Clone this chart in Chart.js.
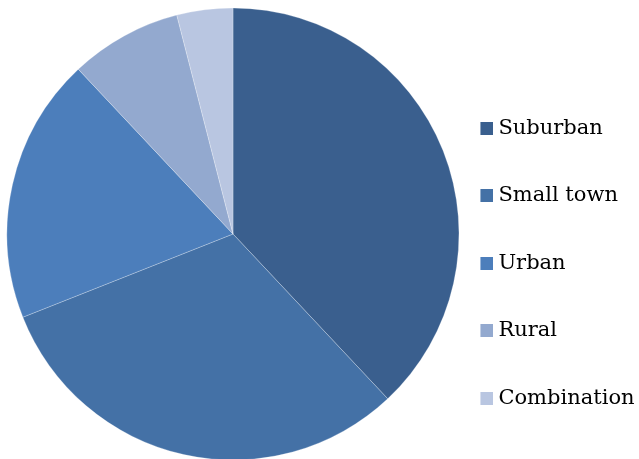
<!DOCTYPE html>
<html>
<head>
<meta charset="utf-8">
<script src="https://cdn.jsdelivr.net/npm/chart.js@4/dist/chart.umd.min.js"></script>
<style>
html,body{margin:0;padding:0;background:#fff;}
canvas{display:block;}
</style>
</head>
<body>
<canvas id="c" width="639" height="459"></canvas>
<script>
const categories = ["Suburban", "Small town", "Urban", "Rural", "Combination"];
const shares = [38, 31, 19, 8, 4];
const sliceColors = ["#3A5F8E", "#4471A6", "#4C7EBB", "#93A9CF", "#B9C6E1"];

function swatch(color) {
  const cv = document.createElement('canvas');
  cv.width = 24; cv.height = 13;
  const g = cv.getContext('2d');
  g.fillStyle = color;
  g.fillRect(11, 0, 13, 13);
  return cv;
}

const baseGen = (Chart.overrides.pie && Chart.overrides.pie.plugins && Chart.overrides.pie.plugins.legend
  && Chart.overrides.pie.plugins.legend.labels.generateLabels)
  || Chart.overrides.doughnut.plugins.legend.labels.generateLabels;

new Chart(document.getElementById('c'), {
  type: 'pie',
  data: {
    labels: categories,
    datasets: [{
      data: shares,
      backgroundColor: sliceColors,
      borderColor: 'rgba(255,255,255,0.25)',
      borderWidth: 1,
      radius: 226,
      clip: false
    }]
  },
  options: {
    responsive: false,
    animation: false,
    devicePixelRatio: 1,
    layout: { padding: { left: 37.5, top: 9, right: 0, bottom: 0 } },
    plugins: {
      tooltip: { enabled: false },
      legend: {
        position: 'right',
        maxWidth: 210.5,
        title: { display: true, text: '', font: { size: 10, lineHeight: 1 }, padding: { top: 48.6, bottom: 0 } },
        labels: {
          usePointStyle: true,
          boxWidth: 13,
          boxHeight: 13,
          padding: 46.4,
          color: '#000000',
          font: { family: '"DejaVu Serif", serif', size: 21 },
          generateLabels(chart) {
            return baseGen(chart).map(it => Object.assign({}, it, { pointStyle: swatch(it.fillStyle) }));
          }
        }
      }
    }
  }
});
</script>
</body>
</html>
